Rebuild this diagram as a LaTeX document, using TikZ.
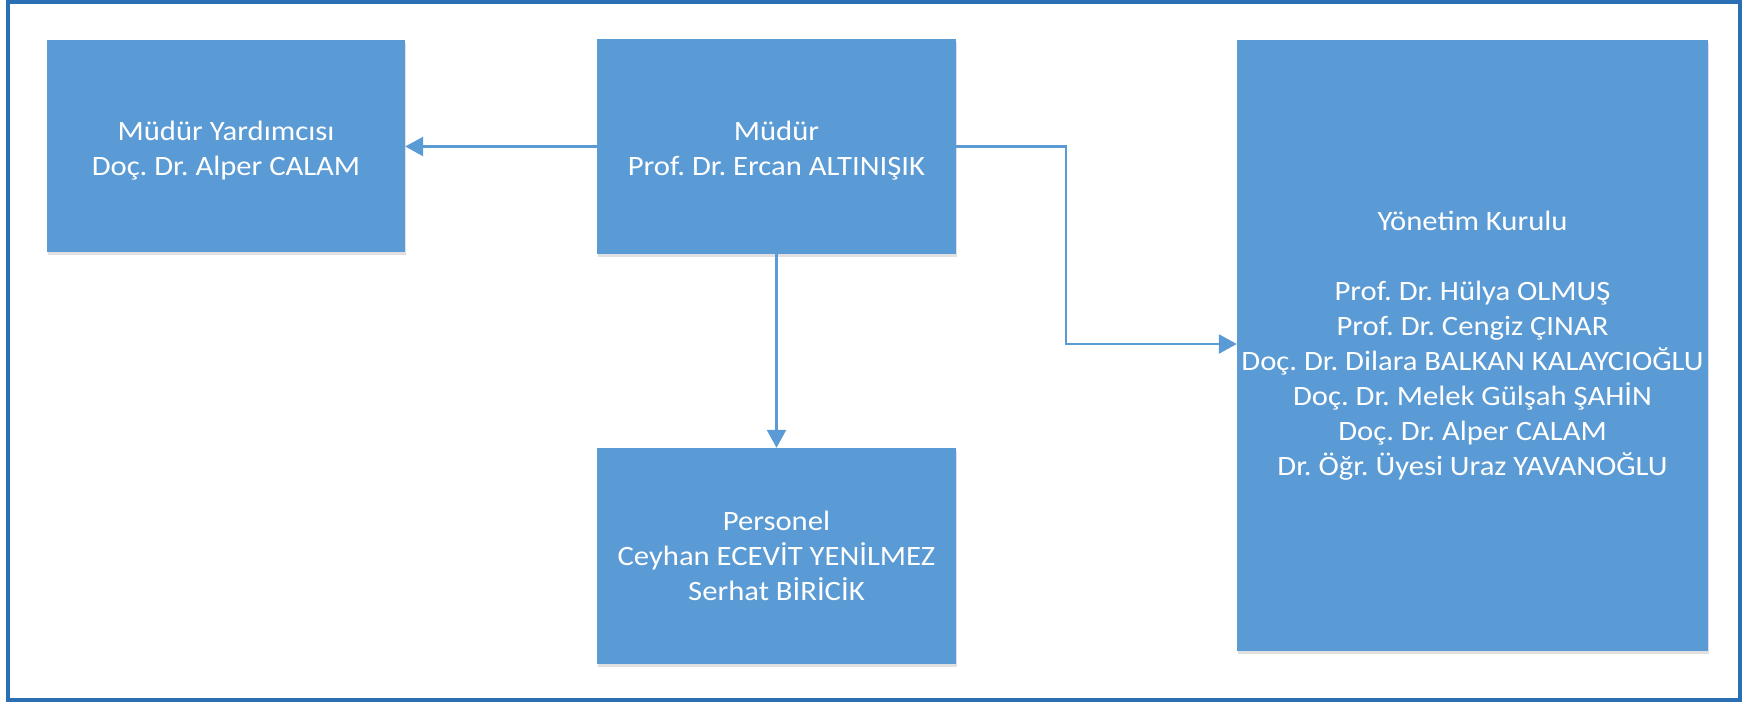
\documentclass[tikz,border=0pt]{standalone}
\usepackage{fontspec}
\setmainfont{Carlito}[FakeStretch=1.095]
\frenchspacing
\usetikzlibrary{arrows.meta,shadows}
\definecolor{boxblue}{HTML}{5B9BD5}
\definecolor{frameblue}{HTML}{2A6FB4}
\tikzset{
  orgbox/.style={fill=boxblue, draw=none, text=white, align=center,
    font=\fontsize{28}{35}\selectfont, inner sep=0pt,
    drop shadow={shadow xshift=1pt, shadow yshift=-3pt, opacity=0.12, fill=black}},
  conn/.style={draw=boxblue, line width=2.6pt,
    -{Triangle[length=18pt,width=19pt]}}
}
\begin{document}
\begin{tikzpicture}[x=1pt,y=-1pt]
\useasboundingbox (0,0) rectangle (1742,702);
\draw[frameblue, line width=3.5pt] (8,1.8) rectangle (1740,700);
\node[orgbox, minimum width=358pt, minimum height=212pt] (yard) at (226,145.5)
  {\rule{0pt}{30pt}Müdür Yardımcısı\\Doç. Dr. Alper CALAM};
\node[orgbox, minimum width=359pt, minimum height=215pt] (mud) at (776.5,146.5)
  {\rule{0pt}{28pt}Müdür\\Prof. Dr. Ercan ALTINIŞIK};
\node[orgbox, minimum width=359pt, minimum height=216pt] (pers) at (776.5,556)
  {Personel\\Ceyhan ECEVİT YENİLMEZ\\Serhat BİRİCİK};
\node[orgbox, minimum width=471pt, minimum height=611pt] (yk) at (1472.5,345.5)
  {Yönetim Kurulu\\[35pt]Prof. Dr. Hülya OLMUŞ\\Prof. Dr. Cengiz ÇINAR\\Doç. Dr. Dilara BALKAN KALAYCIOĞLU\\Doç. Dr. Melek Gülşah ŞAHİN\\Doç. Dr. Alper CALAM\\Dr. Öğr. Üyesi Uraz YAVANOĞLU};
\coordinate (bend) at (1066,344);
\draw[conn] (mud.west) -- (yard.east |- mud.west);
\draw[conn] (mud.south) -- (pers.north);
\draw[conn] (mud.east) -| (bend) -- (bend -| yk.west);
\end{tikzpicture}
\end{document}
